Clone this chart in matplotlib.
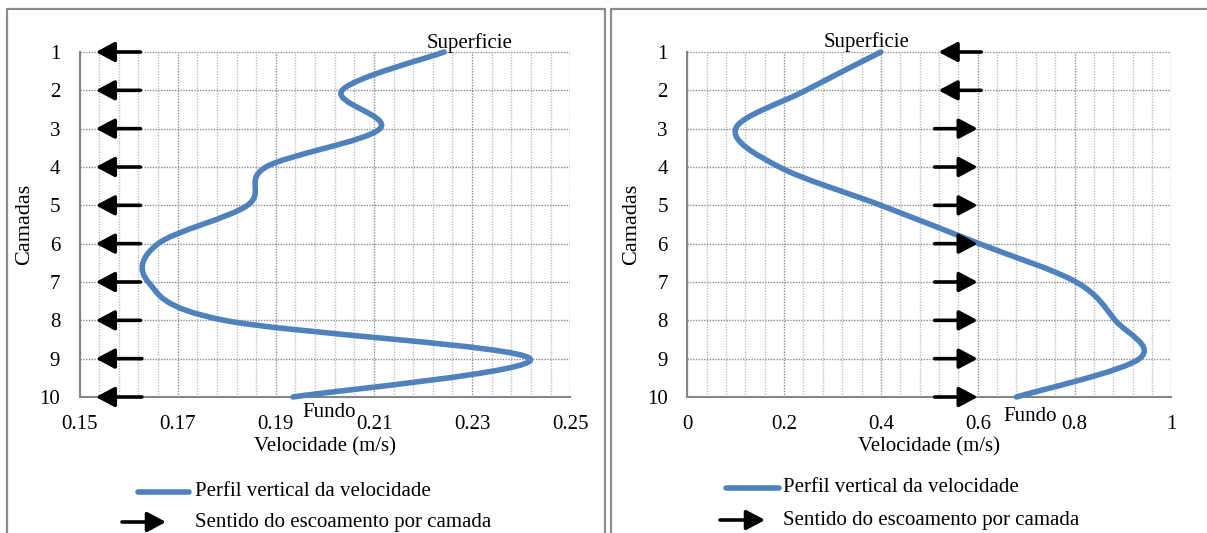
import numpy as np
import matplotlib
matplotlib.use('Agg')
import matplotlib.pyplot as plt
from matplotlib.path import Path
from matplotlib.patches import PathPatch, FancyArrowPatch
from matplotlib.lines import Line2D

plt.rcParams['font.family'] = ['Liberation Serif', 'DejaVu Serif']

# camadas (layers) 1 = superficie, 10 = fundo
camadas = [1, 2, 3, 4, 5, 6, 7, 8, 9, 10]

# left chart: velocity per layer (m/s)
vel_esq = [0.2243, 0.2035, 0.2112, 0.1880, 0.1842, 0.1660, 0.1640, 0.1795, 0.2418, 0.1935]
# left chart: flow direction arrows (tail and head x values)
seta_esq_cauda = [0.1624, 0.1624, 0.1624, 0.1624, 0.1624, 0.1624, 0.1624, 0.1624, 0.1627, 0.1627]
seta_esq_ponta = [0.1533, 0.1533, 0.1533, 0.1533, 0.1533, 0.1533, 0.1533, 0.1533, 0.1533, 0.1533]

# right chart
vel_dir = [0.400, 0.245, 0.100, 0.190, 0.400, 0.603, 0.803, 0.884, 0.934, 0.680]
seta_dir_cauda = [0.607, 0.607, 0.511, 0.511, 0.511, 0.511, 0.511, 0.511, 0.511, 0.511]
seta_dir_ponta = [0.519, 0.519, 0.600, 0.600, 0.600, 0.600, 0.600, 0.600, 0.600, 0.600]

ticks_esq = [0.15, 0.17, 0.19, 0.21, 0.23, 0.25]
ticks_esq_txt = ['0.15', '0.17', '0.19', '0.21', '0.23', '0.25']
ticks_dir = [0, 0.2, 0.4, 0.6, 0.8, 1.0]
ticks_dir_txt = ['0', '0.2', '0.4', '0.6', '0.8', '1']

AZUL = '#4F81BD'
W, H = 1207, 533
FS = 15


def curva_suave(xs, ys):
    # Excel style smoothed line (Catmull-Rom bezier)
    pts = np.column_stack([xs, ys]).astype(float)
    n = len(pts)
    verts = [pts[0]]
    codes = [Path.MOVETO]
    for i in range(n - 1):
        p0 = pts[i - 1] if i > 0 else pts[i]
        p1 = pts[i]
        p2 = pts[i + 1]
        p3 = pts[i + 2] if i + 2 < n else pts[i + 1]
        verts += [p1 + (p2 - p0) / 6, p2 - (p3 - p1) / 6, p2]
        codes += [Path.CURVE4] * 3
    return Path(verts, codes)


def desenha(rect, vel, cauda, ponta, xlim, ticks, ticks_txt, minor, sup_off, fun_off):
    ax = fig.add_axes(rect)
    ax.set_xlim(xlim)
    ax.set_ylim(10, 1)
    ax.set_yticks(camadas)
    ax.set_xticks(ticks)
    ax.set_xticklabels(ticks_txt)
    ax.set_xticks(minor, minor=True)
    ax.tick_params(axis='both', which='both', length=0, labelsize=FS)
    ax.tick_params(axis='x', pad=13)
    ax.tick_params(axis='y', pad=14)
    ax.grid(True, axis='x', which='minor', color='#bdbdbd', linestyle=(0, (1, 1)), lw=1)
    ax.grid(True, axis='x', which='major', color='#8c8c8c', linestyle=(0, (1, 1)), lw=1)
    ax.grid(True, axis='y', which='major', color='#8c8c8c', linestyle=(0, (1, 1)), lw=1)
    ax.set_axisbelow(True)
    for s in ['top', 'right']:
        ax.spines[s].set_visible(False)
    for s in ['left', 'bottom']:
        ax.spines[s].set_color('#868686')
        ax.spines[s].set_linewidth(1.5)
    ax.add_patch(PathPatch(curva_suave(vel, camadas), facecolor='none',
                           edgecolor=AZUL, lw=4.0, capstyle='round', zorder=3, clip_on=False))
    for c, t, p in zip(camadas, cauda, ponta):
        ax.annotate('', xy=(p, c), xytext=(t, c),
                    arrowprops=dict(arrowstyle='-|>,head_length=0.75,head_width=0.4',
                                    color='black', lw=2.6, mutation_scale=15,
                                    shrinkA=0, shrinkB=0), zorder=4)
    ax.annotate('Superficie', xy=(vel[0], camadas[0]), xytext=sup_off,
                textcoords='offset points', ha='center', va='bottom', fontsize=FS)
    ax.annotate('Fundo', xy=(vel[-1], camadas[-1]), xytext=fun_off,
                textcoords='offset points', ha='center', va='center', fontsize=FS)
    ax.set_xlabel('Velocidade (m/s)', fontsize=FS, labelpad=2)
    ax.set_ylabel('Camadas', fontsize=16, labelpad=4)
    return ax


fig = plt.figure(figsize=(W / 100, H / 100), dpi=100)

ax1 = desenha([79.6 / W, 1 - 397 / H, 490.6 / W, 345 / H], vel_esq, seta_esq_cauda, seta_esq_ponta,
              (0.15, 0.25), ticks_esq, ticks_esq_txt, np.arange(0.15, 0.2501, 0.004),
              (18, -1), (26, -11.5))
ax2 = desenha([687.3 / W, 1 - 397 / H, 484.1 / W, 345 / H], vel_dir, seta_dir_cauda, seta_dir_ponta,
              (0, 1), ticks_dir, ticks_dir_txt, np.arange(0, 1.0001, 0.04),
              (-10, 0), (10, -14))


def fx(px):
    return px / W


def fy(py):
    return 1 - py / H


# panel frames
cinza = '#8c8c8c'
for xs, ys in [([7, 7, 605, 605], [533, 9, 9, 533]), ([611, 611, 1207], [533, 9, 9])]:
    fig.add_artist(Line2D([fx(v) for v in xs], [fy(v) for v in ys], color=cinza, lw=1.6))

# legends
for lx0, lx1, ax0, ax1_, tx, ly, ay in [(138, 189, 122, 166, 195, 492, 522),
                                        (726, 779, 720, 765, 783, 488, 520)]:
    fig.add_artist(Line2D([fx(lx0), fx(lx1)], [fy(ly), fy(ly)], color=AZUL, lw=4.0,
                          solid_capstyle='round'))
    fig.text(fx(tx), fy(ly), 'Perfil vertical da velocidade', fontsize=FS, va='center')
    fig.patches.append(FancyArrowPatch(
        (fx(ax0), fy(ay)), (fx(ax1_), fy(ay)), transform=fig.transFigure,
        arrowstyle='-|>,head_length=0.75,head_width=0.4', color='black', lw=2.6,
        mutation_scale=15, shrinkA=0, shrinkB=0))
    fig.text(fx(tx), fy(ay), 'Sentido do escoamento por camada', fontsize=FS, va='center')

fig.savefig('out.png', dpi=100)
